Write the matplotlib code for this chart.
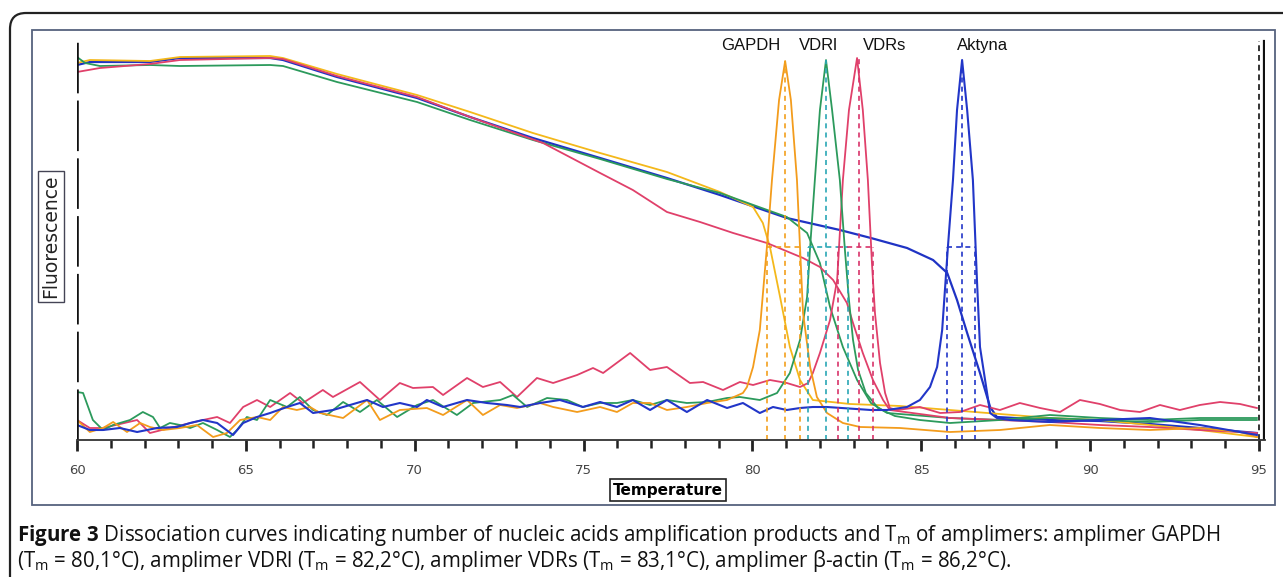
import matplotlib
matplotlib.use('Agg')
import matplotlib.pyplot as plt
from matplotlib.patches import FancyBboxPatch, Rectangle
from matplotlib.transforms import IdentityTransform

plt.rcParams['mathtext.fontset'] = 'custom'
plt.rcParams['mathtext.rm'] = 'Open Sans'
plt.rcParams['mathtext.bf'] = 'Open Sans:bold'
plt.rcParams['mathtext.it'] = 'Open Sans:italic'

# ---- melt curves (fluorescence vs temperature) ----
akt_melt_t = [60.00, 60.38, 62.16, 63.05, 65.72, 66.10, 67.70, 70.07, 71.64, 73.50, 75.49, 77.47, 79.04,
              81.02, 82.59, 83.51, 84.58, 85.35, 85.77, 86.06, 86.36, 86.74, 87.04, 87.24, 88.81, 90.29,
              91.77, 93.25, 94.94]
akt_melt_f = [93.75, 94.5, 94.5, 95.5, 95.5, 95.0, 90.75, 85.5, 80.75, 75.5, 70.5, 65.5, 61.25,
              55.5, 52.5, 50.5, 48.0, 45.0, 41.75, 35.0, 26.75, 16.75, 8.25, 5.75, 5.0, 4.75,
              4.0, 3.0, 1.75]

gapdh_melt_t = [60.00, 60.38, 62.16, 63.05, 65.72, 66.10, 67.70, 70.07, 71.64, 73.50, 75.49, 77.47, 79.04,
                80.02, 80.31, 80.52, 80.82, 81.11, 81.41, 81.79, 82.89, 84.37, 85.85, 87.33, 88.81, 90.29,
                91.77, 93.25, 94.94]
gapdh_melt_f = [94.25, 95.0, 94.75, 95.75, 96.0, 95.5, 91.5, 86.25, 82.0, 76.75, 71.75, 67.0, 62.0,
                58.25, 54.25, 48.25, 35.75, 23.25, 15.0, 10.0, 9.0, 8.5, 7.5, 6.5, 5.5, 5.0,
                3.75, 2.5, 0.75]

vdrl_melt_t = [60.00, 60.24, 60.68, 62.16, 63.05, 65.72, 66.10, 67.70, 70.07, 71.64, 73.50, 75.49, 77.47,
               79.04, 81.02, 81.62, 82.00, 82.30, 82.68, 83.10, 83.51, 83.99, 85.85, 87.33, 88.81, 90.29,
               91.77, 93.25, 94.94]
vdrl_melt_f = [95.75, 94.25, 93.5, 93.75, 93.5, 93.75, 93.5, 89.5, 84.5, 80.0, 75.0, 70.25, 65.25,
               61.75, 55.75, 51.75, 44.25, 33.25, 23.25, 15.0, 9.25, 6.75, 5.5, 5.0, 5.5, 5.0,
               4.5, 5.0, 5.0]

vdrs_melt_t = [60.00, 60.68, 62.16, 63.05, 65.72, 66.10, 67.70, 70.07, 71.64, 73.80, 75.49, 76.46, 77.47,
               78.45, 79.43, 80.43, 81.50, 82.00, 82.39, 82.80, 82.98, 83.27, 83.57, 83.87, 84.07, 85.85,
               87.33, 88.81, 90.29, 91.77, 93.25, 94.94]
vdrs_melt_f = [92.0, 93.0, 94.0, 95.0, 95.5, 95.25, 91.0, 85.75, 80.75, 74.25, 66.75, 62.5, 57.0,
               54.5, 51.75, 49.25, 45.5, 43.25, 40.0, 34.25, 29.25, 21.75, 15.0, 10.0, 7.5, 5.5,
               5.0, 4.5, 3.75, 3.25, 2.5, 1.75]

# ---- derivative curves (-dF/dT) ----
gapdh_der_t = [60.00, 60.38, 60.77, 61.07, 61.48, 61.87, 62.16, 62.55, 63.05, 63.55, 64.03, 64.44, 64.83,
               65.33, 65.72, 66.10, 66.51, 66.90, 67.20, 67.88, 68.59, 68.97, 69.56, 70.36, 70.84, 71.55,
               72.02, 72.53, 73.03, 73.71, 74.10, 74.81, 75.49, 75.99, 76.46, 76.97, 77.47, 78.06, 78.66,
               79.25, 79.72, 79.84, 80.02, 80.22, 80.43, 80.58, 80.79, 80.97, 81.14, 81.32, 81.41, 81.50,
               81.71, 81.91, 82.21, 82.68, 83.19, 84.37, 85.85, 87.33, 88.81, 90.29, 91.77, 93.25, 94.44,
               94.94]
gapdh_der_f = [5.0, 2.0, 3.0, 4.5, 2.0, 4.25, 3.25, 2.5, 3.0, 3.75, 0.75, 1.75, 5.0,
               5.75, 5.0, 8.25, 7.5, 8.25, 6.75, 5.5, 10.0, 5.0, 7.5, 8.0, 6.25, 10.0,
               6.25, 8.75, 8.0, 9.25, 8.25, 7.0, 8.25, 7.0, 9.25, 9.25, 7.5, 8.25, 9.25,
               10.0, 11.75, 13.25, 18.25, 27.5, 48.25, 65.0, 85.0, 94.75, 85.0, 65.0, 48.25, 31.75,
               18.25, 10.75, 6.75, 4.25, 3.25, 3.0, 2.0, 2.5, 3.75, 3.0, 2.5, 3.0, 2.0,
               0.75]

vdrl_der_t = [60.00, 60.18, 60.47, 60.77, 61.07, 61.57, 61.95, 62.25, 62.46, 62.75, 63.05, 63.35, 63.73,
              64.15, 64.53, 64.74, 65.03, 65.33, 65.72, 66.22, 66.60, 66.99, 67.40, 67.88, 68.38, 68.88,
              69.48, 70.07, 70.54, 71.25, 71.73, 72.53, 72.91, 73.33, 73.92, 74.51, 74.98, 75.49, 75.99,
              76.46, 76.97, 77.47, 78.06, 78.66, 79.25, 79.63, 80.22, 80.73, 81.11, 81.41, 81.62, 81.71,
              81.85, 82.00, 82.18, 82.36, 82.59, 82.74, 82.86, 82.98, 83.13, 83.36, 83.72, 84.22, 84.96,
              85.85, 87.33, 88.81, 90.29, 91.77, 93.25, 94.94]
vdrl_der_f = [12.0, 11.75, 5.0, 2.5, 3.75, 5.0, 7.0, 5.75, 3.0, 4.25, 3.75, 3.0, 4.25,
              2.5, 0.75, 2.5, 5.75, 5.0, 10.0, 8.25, 10.75, 7.5, 6.25, 9.5, 7.0, 10.0,
              5.75, 8.75, 10.0, 6.25, 9.25, 10.0, 11.25, 8.25, 10.5, 10.0, 8.25, 9.25, 9.25,
              10.0, 8.75, 10.0, 9.25, 9.5, 10.5, 10.75, 10.0, 11.75, 16.75, 25.0, 35.75, 48.25,
              65.0, 82.5, 95.0, 82.5, 65.0, 47.5, 35.0, 25.0, 17.5, 11.75, 8.0, 6.0, 5.0,
              4.25, 5.0, 6.25, 5.5, 5.0, 5.5, 5.5]

vdrs_der_t = [60.00, 60.38, 60.77, 61.78, 62.16, 62.75, 63.73, 64.15, 64.53, 64.92, 65.33, 65.72, 66.31,
              66.69, 67.28, 67.58, 68.38, 68.97, 69.56, 69.95, 70.54, 70.84, 71.55, 72.02, 72.53, 73.03,
              73.62, 74.10, 74.81, 75.28, 75.58, 76.38, 76.97, 77.47, 78.15, 78.54, 79.13, 79.63, 80.02,
              80.52, 81.02, 81.41, 81.65, 81.79, 82.00, 82.30, 82.51, 82.68, 82.86, 83.10, 83.27, 83.42,
              83.54, 83.63, 83.78, 83.93, 84.07, 84.28, 84.96, 85.56, 86.15, 86.74, 87.33, 87.92, 88.52,
              89.11, 89.70, 90.29, 90.89, 91.48, 92.07, 92.66, 93.25, 93.85, 94.44, 94.94]
vdrs_der_f = [5.0, 3.0, 3.0, 5.0, 1.75, 3.0, 5.0, 5.75, 4.25, 8.25, 10.0, 8.25, 11.75,
              9.25, 12.5, 10.75, 14.5, 10.0, 14.25, 13.0, 13.25, 11.25, 15.5, 13.25, 14.5, 10.75,
              15.5, 14.25, 16.25, 18.0, 16.75, 21.75, 17.5, 18.25, 14.25, 14.5, 12.5, 14.5, 13.75,
              15.0, 14.25, 13.25, 14.25, 16.75, 21.75, 30.0, 40.0, 65.0, 82.5, 95.5, 82.5, 65.0,
              44.25, 31.75, 19.25, 11.75, 8.0, 7.5, 8.25, 6.75, 7.0, 8.75, 7.5, 9.25, 8.0,
              7.0, 10.0, 9.0, 7.5, 7.0, 8.75, 7.5, 8.75, 9.5, 9.0, 8.0]

akt_der_t = [60.00, 60.38, 60.77, 61.27, 61.78, 62.37, 62.96, 63.35, 63.73, 64.15, 64.62, 64.92, 65.33,
             65.72, 66.22, 66.60, 66.99, 67.58, 68.59, 69.06, 69.56, 70.07, 70.36, 70.84, 71.55, 72.14,
             72.73, 73.12, 73.71, 74.30, 74.98, 75.49, 75.99, 76.46, 76.97, 77.47, 78.06, 78.66, 79.25,
             79.72, 80.22, 80.61, 81.02, 81.41, 81.79, 82.21, 83.51, 83.99, 84.58, 84.96, 85.26, 85.47,
             85.62, 85.79, 85.94, 86.06, 86.21, 86.36, 86.53, 86.65, 86.74, 86.95, 87.04, 87.24, 87.63,
             88.81, 90.29, 91.77, 93.25, 94.94]
akt_der_f = [3.75, 2.5, 2.5, 3.0, 2.0, 3.0, 3.25, 4.25, 5.0, 4.25, 1.25, 4.25, 5.75,
             6.75, 8.25, 9.25, 6.75, 7.5, 10.0, 8.25, 9.25, 8.25, 10.0, 8.25, 10.0, 9.25,
             8.75, 8.25, 9.25, 10.0, 8.25, 9.5, 8.25, 10.0, 7.5, 10.0, 7.0, 10.0, 8.0,
             9.25, 6.75, 8.25, 7.5, 8.0, 8.25, 8.25, 7.5, 7.5, 8.25, 10.0, 13.25, 18.25,
             27.5, 48.25, 65.0, 82.5, 95.0, 82.5, 65.0, 40.0, 23.25, 11.75, 6.75, 5.5, 5.0,
             4.5, 5.0, 5.5, 3.75, 1.25]

# ---- peak markers (Tm and half-height limits) ----
products = ['GAPDH', 'VDRl', 'VDRs', 'Aktyna']
tm_left = [80.43, 81.65, 82.53, 85.77]
tm_center = [80.97, 82.18, 83.15, 86.21]
tm_right = [81.41, 82.82, 83.57, 86.59]
peak_top = [94.75, 95.0, 95.5, 95.0]
half_height = 48.25
label_t = [79.96, 81.94, 83.93, 86.83]
marker_colors = ['#f2a01c', '#2aa7b5', '#d8336a', '#2236c8']

fig = plt.figure(figsize=(12.83, 5.77), dpi=100)

ax = fig.add_axes([77 / 1283, 137 / 577, 1188 / 1283, 403 / 577])
ax.set_xlim(60, 95.18)
ax.set_ylim(0, 100.75)

ax.plot(akt_melt_t, akt_melt_f, color='#1f33c4', lw=1.6)
ax.plot(gapdh_melt_t, gapdh_melt_f, color='#f4b81a', lw=1.3)
ax.plot(vdrl_melt_t, vdrl_melt_f, color='#2c9a5c', lw=1.3)
ax.plot(vdrs_melt_t, vdrs_melt_f, color='#e0406a', lw=1.3)

ax.plot(vdrs_der_t, vdrs_der_f, color='#e0406a', lw=1.3)
ax.plot(vdrl_der_t, vdrl_der_f, color='#2c9a5c', lw=1.3)
ax.plot(gapdh_der_t, gapdh_der_f, color='#f39c1c', lw=1.3)
ax.plot(akt_der_t, akt_der_f, color='#2236c8', lw=1.5)

for i in range(len(products)):
    c = marker_colors[i]
    ax.plot([tm_center[i], tm_center[i]], [0, peak_top[i]], color=c, lw=1.2, ls=(0, (3, 2.5)))
    ax.plot([tm_left[i], tm_left[i]], [0, half_height], color=c, lw=1.2, ls=(0, (3, 2.5)))
    ax.plot([tm_right[i], tm_right[i]], [0, half_height], color=c, lw=1.2, ls=(0, (3, 2.5)))
    ax.plot([tm_left[i], tm_right[i]], [half_height, half_height], color=c, lw=1.2, ls=(0, (3, 2.5)))
    ax.text(label_t[i], 98.6, products[i], ha='center', va='center', fontsize=12,
            family='Liberation Sans', color='#111')

# left and right borders of the instrument plot
ax.axvline(60, color='#111', lw=2.6, ls=(0, (14, 2)))
ax.axvline(95, color='#333', lw=1.4, ls=(0, (3, 2)), ymax=0.99)
ax.axvline(95.15, color='#111', lw=1.6, ymax=0.99)

for s in ['top', 'right', 'left']:
    ax.spines[s].set_visible(False)
ax.spines['bottom'].set_color('#333')
ax.spines['bottom'].set_linewidth(1.3)
ax.set_yticks([])
ax.set_xticks(range(60, 96, 5))
ax.set_xticks(range(60, 96), minor=True)
ax.tick_params(axis='x', which='major', length=8, width=2, color='#222', pad=9,
               labelsize=9.5, labelcolor='#444')
ax.tick_params(axis='x', which='minor', length=5.5, width=1.8, color='#222')

# outer rounded frame and screenshot frame (pixel coords)
fig.add_artist(FancyBboxPatch((10, -30), 1320, 594, boxstyle='round,pad=0,rounding_size=16',
                              transform=IdentityTransform(), fill=False, lw=1.6, ec='#222'))
fig.add_artist(Rectangle((32, 72), 1243, 475, transform=IdentityTransform(),
                         fill=False, lw=1.3, ec='#56627e'))

fig.text(668 / 1283, 1 - 490 / 577, 'Temperature', ha='center', va='center', fontsize=11,
         fontweight='bold', bbox=dict(boxstyle='square,pad=0.2', fc='white', ec='#222', lw=1.2))
fig.text(51 / 1283, 1 - 236 / 577, 'Fluorescence', ha='center', va='center', fontsize=13.5,
         rotation=90, color='#222',
         bbox=dict(boxstyle='square,pad=0.2', fc='white', ec='#445', lw=1.0))

line1 = (r'$\mathbf{Figure\ 3}$ Dissociation curves indicating number of nucleic acids amplification '
         r'products and T$_\mathrm{m}$ of amplimers: amplimer GAPDH')
line2 = (r'(T$_\mathrm{m}$ = 80,1°C), amplimer VDRl (T$_\mathrm{m}$ = 82,2°C), amplimer VDRs '
         r'(T$_\mathrm{m}$ = 83,1°C), amplimer β-actin (T$_\mathrm{m}$ = 86,2°C).')
fig.text(17 / 1283, 1 - 535 / 577, line1, ha='left', va='center', fontsize=14.8,
         family='Open Sans', color='#111')
fig.text(17 / 1283, 1 - 561 / 577, line2, ha='left', va='center', fontsize=14.8,
         family='Open Sans', color='#111')

plt.savefig('out.png', dpi=100)
